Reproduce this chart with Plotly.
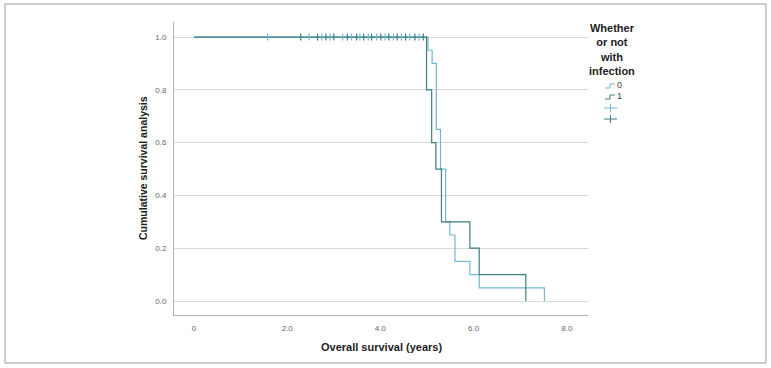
import plotly.graph_objects as go

# Kaplan-Meier step data
g0_time = [0, 5.02, 5.11, 5.20, 5.29, 5.40, 5.49, 5.60, 5.92, 6.12, 7.52]
g0_surv = [1.0, 0.95, 0.90, 0.65, 0.50, 0.30, 0.25, 0.15, 0.10, 0.05, 0.0]
g1_time = [0, 4.99, 5.10, 5.19, 5.31, 5.92, 6.12, 7.12]
g1_surv = [1.0, 0.80, 0.60, 0.50, 0.30, 0.20, 0.10, 0.0]

censor_times = [1.58, 2.29, 2.47, 2.65, 2.74, 2.83, 2.92, 3.00, 3.19, 3.29,
                3.38, 3.49, 3.56, 3.64, 3.74, 3.81, 3.92, 4.01, 4.10, 4.18,
                4.28, 4.36, 4.45, 4.54, 4.63, 4.74, 4.83, 4.92]
g0_censor = censor_times[0::2]
g1_censor = censor_times[1::2]

x_tickvals = [0, 2, 4, 6, 8]
x_ticktext = ["0", "2.0", "4.0", "6.0", "8.0"]
y_tickvals = [0, 0.2, 0.4, 0.6, 0.8, 1.0]
y_ticktext = ["0.0", "0.2", "0.4", "0.6", "0.8", "1.0"]

c0 = "#74b6d4"
c1 = "#3c7f84"
font = "Liberation Sans, Arial, sans-serif"

fig = go.Figure()
fig.add_trace(go.Scatter(x=g0_time, y=g0_surv, mode="lines", line_shape="hv",
                         line=dict(color=c0, width=1.2), showlegend=False))
fig.add_trace(go.Scatter(x=g1_time, y=g1_surv, mode="lines", line_shape="hv",
                         line=dict(color=c1, width=1.2), showlegend=False))
fig.add_trace(go.Scatter(x=g0_censor, y=[1.0] * len(g0_censor), mode="markers",
                         marker=dict(symbol="line-ns", size=5, line=dict(color=c0, width=1.2)),
                         showlegend=False))
fig.add_trace(go.Scatter(x=g1_censor, y=[1.0] * len(g1_censor), mode="markers",
                         marker=dict(symbol="line-ns", size=5, line=dict(color=c1, width=1.2)),
                         showlegend=False))

W, H = 771, 368
L, R, T, B = 174, 588, 22, 315


def px(x):
    return (x - L) / (R - L)


def py(y):
    return (B - y) / (B - T)


shapes = [
    dict(type="rect", xref="paper", yref="paper", x0=px(5), x1=px(766), y0=py(363), y1=py(4),
         line=dict(color="#9a9a9a", width=1), fillcolor="rgba(0,0,0,0)", layer="below"),
]
# legend glyphs
for yy, col in [(86, c0), (97, c1)]:
    path = "M {} {} L {} {} L {} {} L {} {}".format(
        px(605), py(yy + 2), px(610), py(yy + 2), px(610), py(yy - 2), px(615), py(yy - 2))
    shapes.append(dict(type="path", xref="paper", yref="paper", path=path,
                       line=dict(color=col, width=1)))
for yy, col in [(108, c0), (119, c1)]:
    shapes.append(dict(type="line", xref="paper", yref="paper", x0=px(604), x1=px(617),
                       y0=py(yy), y1=py(yy), line=dict(color=col, width=1)))
    shapes.append(dict(type="line", xref="paper", yref="paper", x0=px(610.5), x1=px(610.5),
                       y0=py(yy - 4), y1=py(yy + 4), line=dict(color=col, width=1)))


def ann(text, x, y, size, color="#222", xanchor="center", angle=0):
    return dict(text=text, xref="paper", yref="paper", x=px(x), y=py(y), showarrow=False,
                xanchor=xanchor, yanchor="middle", textangle=angle, align="center",
                font=dict(size=size, color=color, family=font))


annotations = [
    ann("<b>Overall survival (years)</b>", 381, 347, 11),
    ann("<b>Cumulative survival analysis</b>", 143, 168, 10.5, angle=-90),
    ann("<b>Whether<br>or not<br>with<br>infection</b>", 612, 50, 11),
    ann("0", 615, 85, 9, color="#444", xanchor="left"),
    ann("1", 615, 96, 9, color="#444", xanchor="left"),
]

fig.update_layout(
    width=W, height=H,
    margin=dict(l=L, r=W - R, t=T, b=H - B),
    paper_bgcolor="white", plot_bgcolor="white",
    showlegend=False,
    shapes=shapes, annotations=annotations,
    font=dict(family=font),
)
fig.update_xaxes(range=[-0.43, 8.455], tickvals=x_tickvals, ticktext=x_ticktext,
                 showgrid=False, zeroline=False, showline=True, linecolor="#b0b0b0", linewidth=1,
                 ticks="", ticklabelstandoff=5, tickfont=dict(size=8, color="#666"))
fig.update_yaxes(range=[-0.053, 1.057], tickvals=y_tickvals, ticktext=y_ticktext,
                 showgrid=True, gridcolor="#d9d9d9", gridwidth=1, zeroline=False,
                 showline=True, linecolor="#b0b0b0", linewidth=1,
                 ticks="", ticklabelstandoff=5, tickfont=dict(size=8, color="#666"))

fig.write_html("out.html")
